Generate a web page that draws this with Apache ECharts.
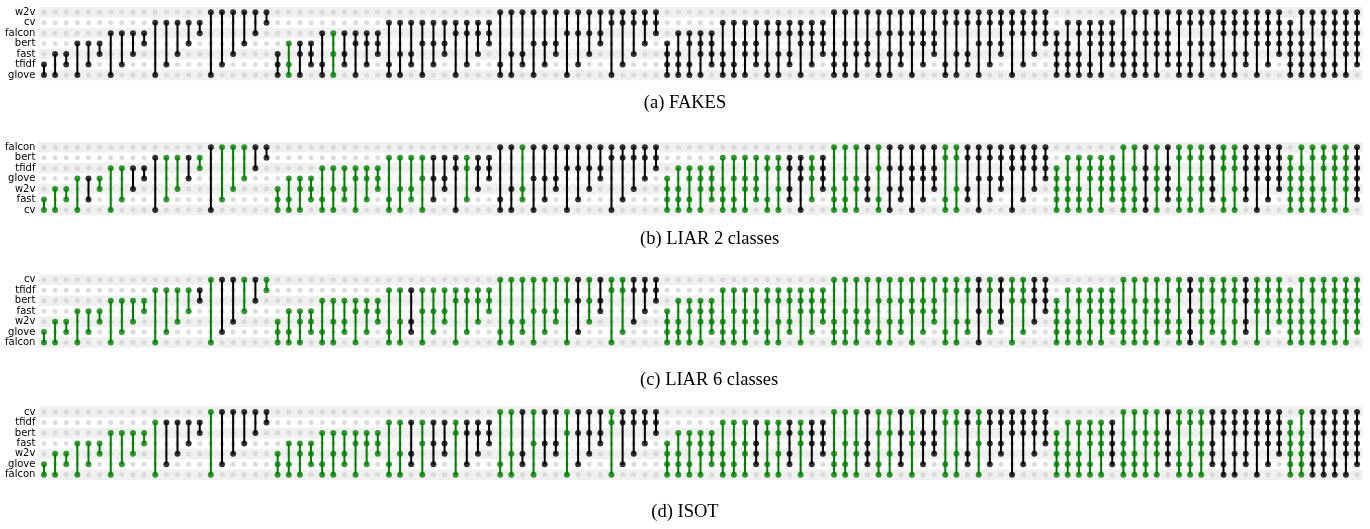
<!DOCTYPE html>
<html><head><meta charset="utf-8">
<script src="https://cdn.jsdelivr.net/npm/echarts@6/dist/echarts.min.js"></script>
<style>html,body{margin:0;padding:0;background:#fff}#c{width:1370px;height:529px}</style>
</head><body><div id="c"></div>
<script>
// Column subsets (bitmask over rows, bit 0 = bottom row), ordered as in the figure
const subsets = [
  3,5,6,9,10,12,17,18,20,24,33,34,36,40,48,65,66,68,72,80,96,
  7,11,13,14,19,21,22,25,26,28,35,37,38,41,42,44,49,50,52,56,67,69,70,73,74,76,81,82,84,88,97,98,100,104,112,
  15,23,27,29,30,39,43,45,46,51,53,54,57,58,60,71,75,77,78,83,85,86,89,90,92,99,101,102,105,106,108,113,114,116,120,
  31,47,55,59,61,62,79,87,91,93,94,103,107,109,110,115,117,118,121,122,124,
  63,95,111,119,123,125,126
];
// Row labels, bottom to top
const rowsA = ['glove','tfidf','fast','bert','falcon','cv','w2v'];
const rowsB = ['cv','fast','w2v','glove','tfidf','bert','falcon'];
const rowsC = ['falcon','glove','w2v','fast','bert','tfidf','cv'];
const rowsD = ['falcon','glove','w2v','fast','bert','tfidf','cv'];
// 1 = green column, 0 = black column
const greenA = [
  0,0,0,0,0,0,0,0,0,0, 0,0,0,0,0,0,0,0,0,0,
  0,0,1,0,0,0,1,0,0,0, 0,0,0,0,0,0,0,0,0,0,
  0,0,0,0,0,0,0,0,0,0, 0,0,0,0,0,0,0,0,0,0,
  0,0,0,0,0,0,0,0,0,0, 0,0,0,0,0,0,0,0,0,0,
  0,0,0,0,0,0,0,0,0,0, 0,0,0,0,0,0,0,0,0,0,
  0,0,0,0,0,0,0,0,0,0, 0,0,0,0,0,0,0,0,0
];
const greenB = [
  1,1,1,1,0,1,1,1,0,0, 0,1,1,0,1,0,1,1,1,0,
  0,1,1,1,1,1,1,1,1,1, 1,1,1,1,1,0,0,0,1,0,
  0,0,0,1,0,0,0,0,0,0, 0,0,0,0,0,0,1,1,1,1,
  1,1,1,1,1,1,1,0,0,1, 0,1,1,1,0,1,0,0,0,0,
  0,1,1,0,0,0,0,0,0,0, 0,1,1,1,1,1,1,1,1,0,
  1,0,1,1,1,0,1,1,0,0, 0,0,1,1,1,1,1,1,0
];
const greenC = [
  1,1,1,1,1,1,1,1,1,1, 1,1,1,1,0,1,0,0,1,0,
  1,1,1,1,1,1,1,1,1,1, 1,1,1,0,1,1,1,1,1,1,
  1,1,1,1,1,1,1,1,0,1, 0,1,1,0,0,0,1,1,1,1,
  1,1,1,1,1,1,1,1,1,1, 1,1,1,1,1,1,1,1,1,1,
  1,1,1,1,0,1,0,1,1,0, 0,1,1,1,1,1,1,1,1,1,
  1,1,1,0,1,1,1,1,0,1, 1,1,1,1,1,1,1,1,1
];
const greenD = [
  1,1,1,1,1,1,1,1,1,1, 1,0,0,0,0,1,0,0,0,0,
  0,1,1,1,1,1,1,1,1,1, 1,1,1,0,1,0,0,1,0,0,
  0,1,1,0,1,0,0,1,0,0, 0,1,0,0,0,0,1,1,1,1,
  1,1,1,1,0,1,1,0,1,0, 0,1,1,1,0,1,1,0,1,0,
  0,1,1,0,1,0,0,0,0,0, 0,1,1,1,1,1,0,1,1,1,
  1,0,1,1,1,0,0,0,0,0, 0,0,1,1,0,0,0,0,0
];
const captions = ['(a) FAKES', '(b) LIAR 2 classes', '(c) LIAR 6 classes', '(d) ISOT'];

const panels = [
  {rows: rowsA, green: greenA, top: 7.0, capY: 104, capLeft: 'center'},
  {rows: rowsB, green: greenB, top: 142.0, capY: 240, capLeft: 640},
  {rows: rowsC, green: greenC, top: 274.6, capY: 381, capLeft: 640},
  {rows: rowsD, green: greenD, top: 406.8, capY: 513, capLeft: 'center'}
];
const GREEN = '#008000', BLACK = '#000000';
const cols = subsets.map((_, i) => 'c' + i);

const grid = [], xAxis = [], yAxis = [], series = [], graphic = [];
panels.forEach((p, pi) => {
  grid.push({left: 38.4, right: 7.4, top: p.top, height: 73.2});
  xAxis.push({type: 'category', gridIndex: pi, data: cols, boundaryGap: true, show: false});
  yAxis.push({
    type: 'category', gridIndex: pi, data: p.rows, boundaryGap: true,
    axisLine: {show: false}, axisTick: {show: false}, splitLine: {show: false},
    axisLabel: {interval: 0, margin: 3, fontFamily: 'DejaVu Sans', fontSize: 10, color: '#000'},
    splitArea: {show: true, interval: 0, areaStyle: {color: ['#f0f0f0', 'rgba(255,255,255,0)']}}
  });
  const off = [], on = [], segs = [];
  subsets.forEach((m, ci) => {
    let lo = 99, hi = -1;
    for (let r = 0; r < 7; r++) {
      if (m & (1 << r)) { on.push({value: [ci, r], itemStyle: {color: p.green[ci] ? GREEN : BLACK}}); lo = Math.min(lo, r); hi = Math.max(hi, r); }
      else off.push([ci, r]);
    }
    segs.push([ci, lo, hi, p.green[ci]]);
  });
  series.push({type: 'scatter', xAxisIndex: pi, yAxisIndex: pi, data: off, symbolSize: 5,
    itemStyle: {color: '#d4d4d4'}, silent: true, animation: false, z: 1});
  series.push({type: 'custom', xAxisIndex: pi, yAxisIndex: pi, data: segs, silent: true, animation: false, z: 2,
    renderItem: (params, api) => {
      const a = api.coord([api.value(0), api.value(1)]);
      const b = api.coord([api.value(0), api.value(2)]);
      return {type: 'line', shape: {x1: a[0], y1: a[1], x2: b[0], y2: b[1]},
        style: {stroke: api.value(3) ? GREEN : BLACK, lineWidth: 2}};
    }});
  series.push({type: 'scatter', xAxisIndex: pi, yAxisIndex: pi, data: on, symbolSize: 6,
    silent: true, animation: false, z: 3});
  graphic.push({type: 'text', left: p.capLeft, top: p.capY - 10,
    style: {text: captions[pi], font: '18.5px "Liberation Serif"', fill: '#000'}});
});

const chart = echarts.init(document.getElementById('c'), null, {renderer: 'canvas'});
chart.setOption({animation: false, grid, xAxis, yAxis, series, graphic});
</script></body></html>
